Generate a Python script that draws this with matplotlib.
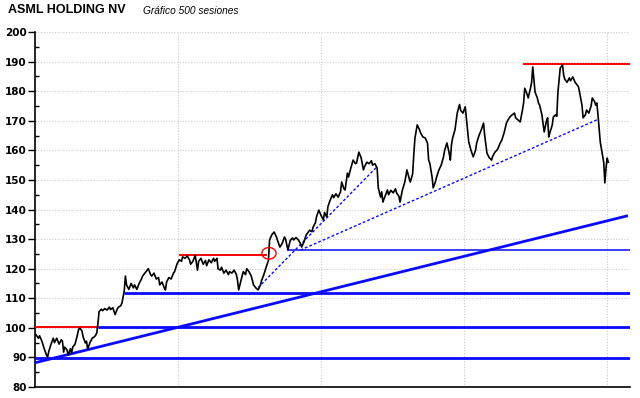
import matplotlib.pyplot as plt
from matplotlib.patches import Ellipse
from matplotlib.ticker import MultipleLocator

# sesiones (0..500) y precio
sesion = [1, 3, 4, 6, 8, 10, 11, 12, 14, 16, 17, 19, 21, 23, 24, 25, 26, 28, 29, 31,
          32, 33, 35, 37, 38, 39, 41, 42, 44, 45, 46, 48, 50, 52, 53, 54, 55, 56, 58, 59,
          61, 63, 65, 66, 68, 70, 72, 73, 75, 76, 78, 79, 80, 82, 84, 86, 87, 89, 91, 93,
          94, 96, 98, 99, 101, 102, 104, 106, 108, 109, 111, 113, 114, 115, 117, 119, 121, 122, 124, 126,
          128, 129, 131, 133, 135, 136, 138, 140, 142, 143, 145, 147, 149, 150, 152, 154, 156, 157, 159, 160,
          162, 163, 165, 167, 169, 170, 172, 174, 176, 177, 178, 180, 182, 184, 185, 187, 189, 190, 191, 193,
          195, 197, 198, 200, 202, 204, 205, 207, 209, 211, 212, 214, 216, 218, 219, 221, 223, 225, 226, 228,
          230, 232, 233, 235, 237, 239, 240, 242, 243, 245, 246, 248, 250, 252, 253, 255, 256, 258, 260, 261,
          263, 265, 267, 268, 270, 271, 273, 274, 276, 278, 280, 281, 283, 285, 287, 288, 290, 292, 294, 295,
          297, 299, 300, 302, 303, 304, 306, 308, 309, 311, 313, 315, 316, 318, 319, 321, 323, 324, 325, 327,
          328, 330, 331, 332, 334, 336, 337, 339, 341, 343, 344, 345, 347, 348, 350, 351, 353, 355, 357, 358,
          360, 362, 363, 364, 365, 367, 369, 371, 372, 374, 376, 378, 379, 381, 383, 385, 386, 388, 390, 392,
          393, 395, 397, 399, 400, 402, 404, 405, 406, 408, 410, 412, 413, 415, 417, 419, 420, 422, 424, 426,
          427, 428, 430, 431, 433, 434, 435, 437, 439, 440, 441, 443, 445, 447, 448, 449, 450, 452, 453, 455,
          456, 457, 459, 461, 462, 463, 465, 467, 468, 470, 472, 474, 475, 476, 478, 479, 481, 482, 484, 486,
          487, 489, 490, 491, 492, 494, 496, 497, 498, 499, 500, 501]
precio = [97.6, 96.5, 97.3, 95.5, 93.0, 90.8, 90.1, 92.0, 94.5, 96.5, 95.0, 96.5, 94.5, 96.0, 95.5, 91.8, 93.5, 92.5, 90.8, 93.0,
          91.5, 93.5, 94.5, 97.5, 99.3, 100.0, 99.0, 97.0, 94.9, 95.5, 92.8, 95.0, 96.5, 97.0, 97.5, 98.3, 101.5, 105.5, 106.3, 105.8,
          106.5, 106.0, 107.0, 106.2, 106.8, 104.5, 106.5, 107.0, 107.5, 108.4, 112.5, 117.5, 114.5, 113.0, 115.0, 113.5, 114.5, 113.0, 115.0, 116.5,
          117.5, 118.5, 119.5, 120.0, 118.0, 117.5, 118.5, 116.5, 117.0, 114.5, 115.5, 113.5, 112.8, 115.5, 117.0, 116.5, 118.5, 119.0, 121.5, 123.0,
          122.5, 124.0, 123.5, 124.3, 123.0, 121.5, 122.5, 124.5, 119.5, 122.5, 123.5, 121.5, 122.8, 121.0, 123.0, 122.0, 123.5, 122.5, 123.5, 120.0,
          119.5, 120.5, 118.5, 119.5, 118.0, 119.0, 118.5, 119.5, 118.0, 116.0, 112.8, 116.0, 119.0, 118.0, 120.0, 119.0, 117.5, 116.0, 114.5, 113.5,
          112.8, 114.5, 116.0, 118.0, 120.5, 122.8, 129.7, 131.5, 132.4, 130.7, 129.5, 127.3, 128.5, 130.7, 130.0, 126.3, 129.5, 130.4, 129.7, 130.5,
          129.8, 128.5, 127.3, 129.0, 131.4, 132.5, 133.0, 132.5, 134.0, 135.5, 137.5, 139.8, 138.0, 136.5, 139.0, 137.5, 141.0, 143.2, 145.0, 144.0,
          145.3, 144.2, 146.0, 149.3, 147.0, 146.6, 152.3, 151.0, 154.0, 156.7, 155.5, 155.7, 159.4, 157.5, 153.4, 154.5, 156.0, 155.5, 156.5, 155.0,
          155.5, 154.0, 147.3, 144.2, 146.0, 142.5, 144.5, 146.6, 145.0, 146.5, 145.6, 147.0, 145.6, 144.5, 142.5, 146.5, 149.0, 151.0, 153.4, 150.5,
          149.3, 152.0, 158.4, 164.0, 168.6, 167.0, 165.9, 164.5, 164.2, 162.5, 156.7, 155.7, 151.0, 147.3, 149.5, 151.0, 153.4, 155.0, 157.8, 160.0,
          162.5, 159.0, 156.7, 162.0, 164.2, 166.9, 172.6, 175.5, 173.5, 172.6, 174.7, 166.9, 163.0, 160.0, 157.8, 160.0, 162.5, 165.0, 166.9, 169.2,
          165.0, 159.0, 157.5, 156.7, 158.0, 159.4, 160.2, 161.0, 162.0, 163.5, 166.0, 169.2, 170.0, 171.3, 172.0, 172.6, 171.0, 170.3, 169.6, 173.6,
          176.0, 181.0, 179.0, 177.7, 181.0, 183.0, 188.2, 179.7, 177.7, 176.0, 175.3, 172.0, 166.2, 170.0, 171.0, 164.5, 166.0, 168.5, 171.3, 172.0,
          171.5, 179.7, 187.8, 188.9, 185.5, 184.0, 183.0, 184.5, 183.5, 184.8, 183.0, 182.0, 181.4, 179.5, 175.3, 171.0, 172.0, 173.6, 172.6, 175.0,
          177.7, 176.5, 175.3, 176.0, 172.0, 162.8, 158.4, 156.0, 149.0, 154.0, 157.4, 156.0]

# lineas de analisis tecnico: (sesion inicio, sesion fin, precio)
soportes = [(0, 520, 89.7), (55, 520, 100.2), (78, 520, 111.7)]
soporte_fino = (221, 520, 126.2)
resistencias = [(0, 55, 100.3), (127, 202, 124.6), (427, 520, 189.1)]
tendencia = [(0, 88.2), (517, 137.8)]
directrices = [[(195, 113.6), (299, 154.5)], [(232, 126.3), (491, 170.3)]]
ruptura = (204.5, 125.2)

fig = plt.figure(figsize=(6.4, 3.98), dpi=100)
ax = fig.add_axes([0.0547, 0.0276, 0.9297, 0.892])

azul = "#0a0aff"
for x0, x1, v in soportes:
    ax.plot([x0, x1], [v, v], color=azul, lw=2.0, solid_capstyle="butt", zorder=3)
ax.plot(soporte_fino[:2], [soporte_fino[2]] * 2, color=azul, lw=1.1, zorder=3)
for x0, x1, v in resistencias:
    ax.plot([x0, x1], [v, v], color="red", lw=1.4, zorder=3)
ax.plot([p[0] for p in tendencia], [p[1] for p in tendencia], color=azul, lw=2.0, zorder=3)
for d in directrices:
    ax.plot([p[0] for p in d], [p[1] for p in d], color=azul, lw=1.0,
            linestyle=(0, (2, 1.5)), zorder=3)

ax.plot(sesion, precio, color="black", lw=1.2, zorder=4)

ax.add_patch(Ellipse(ruptura, 12.5, 3.9, fill=False, edgecolor="red", lw=1.0, zorder=5))

ax.set_xlim(0, 520)
ax.set_ylim(80, 200)
ax.set_xticks([125, 250, 375, 500])
ax.yaxis.set_major_locator(MultipleLocator(10))
ax.yaxis.set_minor_locator(MultipleLocator(5))
ax.grid(True, color="#cccccc", linestyle=(0, (1, 1.5)), lw=0.8)
ax.set_axisbelow(True)
ax.tick_params(axis="x", length=0, labelbottom=False)
ax.tick_params(axis="y", which="major", direction="out", length=5, width=1, pad=1,
               labelsize=7.5)
ax.tick_params(axis="y", which="minor", direction="in", length=3, width=1)
for lab in ax.get_yticklabels():
    lab.set_fontweight("bold")
for s in ["top", "right"]:
    ax.spines[s].set_visible(False)
ax.spines["left"].set_linewidth(1.2)
ax.spines["bottom"].set_linewidth(1.2)

fig.text(8 / 640, 1 - 10 / 398, "ASML HOLDING NV", fontsize=9, fontweight="bold",
         family="Liberation Sans", va="center", ha="left")
fig.text(143 / 640, 1 - 11 / 398, "Gráfico 500 sesiones", fontsize=7.3, style="italic",
         family="Liberation Sans", va="center", ha="left")

fig.savefig("out.png", dpi=100)
